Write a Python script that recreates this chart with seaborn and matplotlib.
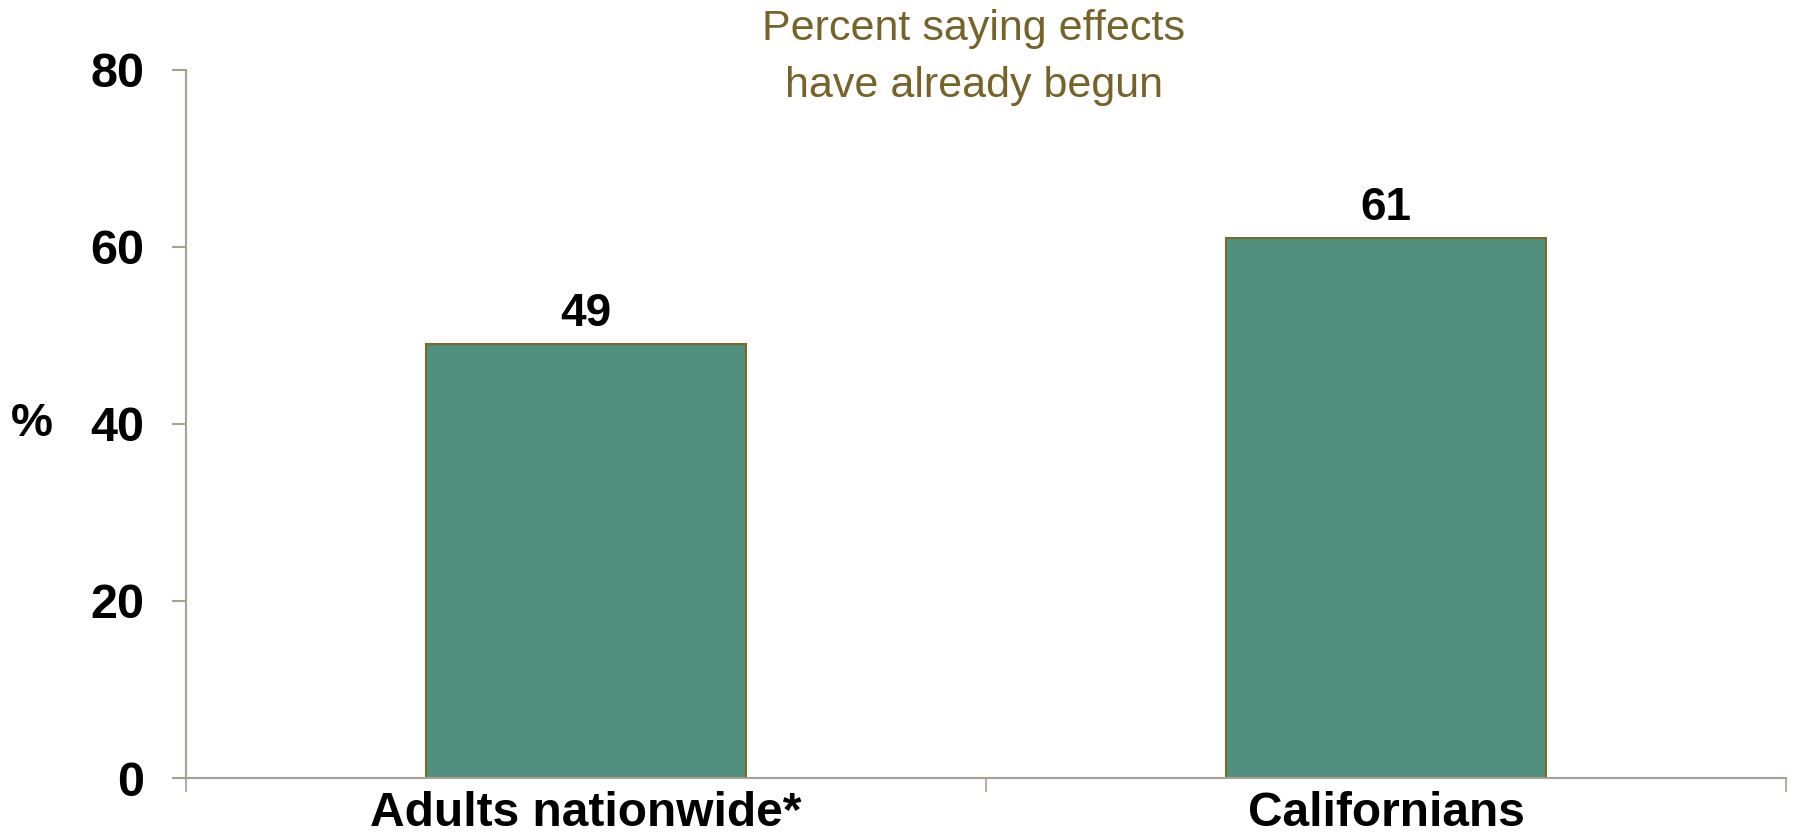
import matplotlib
matplotlib.use("Agg")
import matplotlib.pyplot as plt
import seaborn as sns
import pandas as pd

# data
groups = ["Adults nationwide*", "Californians"]
pct = [49, 61]
y_ticks = [0, 20, 40, 60, 80]

BAR = "#518f7f"
EDGE = "#7a6a2a"
SPINE = "#a8a090"
TITLE = "#76632a"

sns.set_theme(style="white")
plt.rcParams["font.family"] = ["Liberation Sans", "DejaVu Sans"]
plt.rcParams["text.color"] = "black"
plt.rcParams["axes.labelcolor"] = "black"
plt.rcParams["xtick.color"] = "black"
plt.rcParams["ytick.color"] = "black"

df = pd.DataFrame({"group": groups, "pct": pct})

fig = plt.figure(figsize=(17.94, 8.4), dpi=100)
ax = fig.add_axes([0.1037, 0.0738, 0.8918, 0.8429])

sns.barplot(data=df, x="group", y="pct", color=BAR, width=0.4,
            edgecolor=EDGE, linewidth=1.5, saturation=1, ax=ax)

ax.set_xlim(-0.5, 1.5)
ax.set_ylim(0, 80)
ax.set_yticks(y_ticks)
ax.set_xticks([-0.5, 0.5, 1.5], minor=True)

for side in ("top", "right"):
    ax.spines[side].set_visible(False)
for side in ("left", "bottom"):
    ax.spines[side].set_color(SPINE)
    ax.spines[side].set_linewidth(1.5)

ax.tick_params(axis="y", which="major", left=True, direction="out", length=10,
               width=1.5, color=SPINE, pad=20, labelsize=35, labelcolor="black")
ax.tick_params(axis="x", which="major", bottom=True, length=0, pad=9,
               labelsize=34.5, labelcolor="black")
ax.tick_params(axis="x", which="minor", bottom=True, direction="out",
               length=10, width=1.2, color=SPINE)
for lab in ax.get_xticklabels() + ax.get_yticklabels():
    lab.set_fontweight("bold")

ax.set_xlabel("")
ax.set_ylabel("%", rotation=0, fontsize=34, fontweight="bold", labelpad=42,
              va="center", color="black")

for container in ax.containers:
    ax.bar_label(container, fmt="%d", padding=6, fontsize=33,
                 fontweight="bold", color="black")

fig.text(0.5427, 0.9315, "Percent saying effects\nhave already begun",
         ha="center", va="center", fontsize=31, color=TITLE,
         linespacing=1.55)

fig.savefig("out.png", dpi=100)
